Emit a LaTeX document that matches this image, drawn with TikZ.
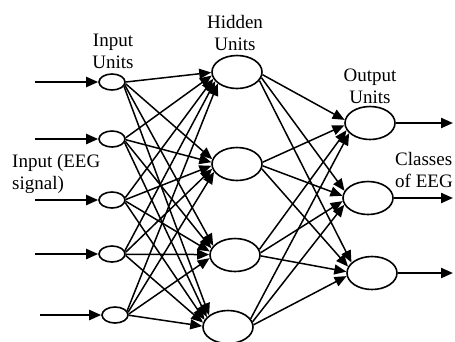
\documentclass[tikz,border=0pt]{standalone}
\usepackage{fontspec}
\setmainfont{Liberation Serif}
\usetikzlibrary{arrows.meta,shapes.geometric}
\begin{document}
\begin{tikzpicture}[x=1pt,y=-1pt,
  unit/.style={ellipse, draw, line width=1.6pt, inner sep=0pt, minimum width=50pt, minimum height=33pt},
  inunit/.style={unit, minimum width=26pt, minimum height=16pt},
  link/.style={line width=1.5pt, -{Triangle[length=12pt,width=10pt]}},
  io/.style={line width=2.2pt, -{Triangle[length=12pt,width=10pt]}},
  lbl/.style={font=\fontsize{19}{22}\selectfont, align=center, inner sep=0pt}
]
\useasboundingbox (0,0) rectangle (455,341);
% units
\foreach \n/\x/\y in {i1/112/82,i2/112/139,i3/112/200,i4/112/254,i5/115/315}
  \node[inunit] (\n) at (\x,\y) {};
\foreach \n/\x/\y in {h1/237/72,h2/237/164,h3/235/255,h4/228/327}
  \node[unit] (\n) at (\x,\y) {};
\foreach \n/\x/\y in {o1/370/123,o2/368/198,o3/372/273}
  \node[unit] (\n) at (\x,\y) {};
% input -> hidden
\foreach \s/\ys in {i1/82,i2/139,i3/200,i4/254,i5/315}
  \foreach \t/\yt in {h1/72,h2/164,h3/255,h4/327} {
    \pgfmathsetmacro\d{\ys-\yt}
    \pgfmathtruncatemacro\ta{180+max(-35,min(35,0.13*\d))}
    \pgfmathtruncatemacro\sa{mod(360+max(-30,min(30,0.08*\d)),360)}
    \draw[link] (\s.\sa) -- (\t.\ta);
  }
% hidden -> output
\foreach \s/\ys in {h1/72,h2/164,h3/255,h4/327}
  \foreach \t/\yt in {o1/123,o2/198,o3/273} {
    \pgfmathsetmacro\d{\ys-\yt}
    \pgfmathtruncatemacro\ta{180+max(-35,min(35,0.13*\d))}
    \pgfmathtruncatemacro\sa{mod(360+max(-30,min(30,0.1*\d)),360)}
    \draw[link] (\s.\sa) -- (\t.\ta);
  }
% external arrows
\foreach \n/\x/\y in {s1/35/82,s2/35/139,s3/35/200,s4/35/254,s5/40/315}
  \coordinate (\n) at (\x,\y);
\foreach \n/\x/\y in {e1/453/123,e2/453/198,e3/453/273}
  \coordinate (\n) at (\x,\y);
\foreach \k in {1,...,5} \draw[io] (s\k) -- (i\k.west);
\foreach \k in {1,2,3} \draw[io] (o\k.east) -- (e\k);
% labels
\node[lbl] (lin) at (113,51) {Input\\Units};
\node[lbl] (lhid) at (235,33) {Hidden\\Units};
\node[lbl] (lout) at (370,86) {Output\\Units};
\node[lbl, align=left, anchor=west] (lsig) at (12,174) {Input (EEG\\signal)};
\node[lbl, align=left, anchor=west] (lcls) at (395,170) {Classes\\of EEG};
\end{tikzpicture}
\end{document}
